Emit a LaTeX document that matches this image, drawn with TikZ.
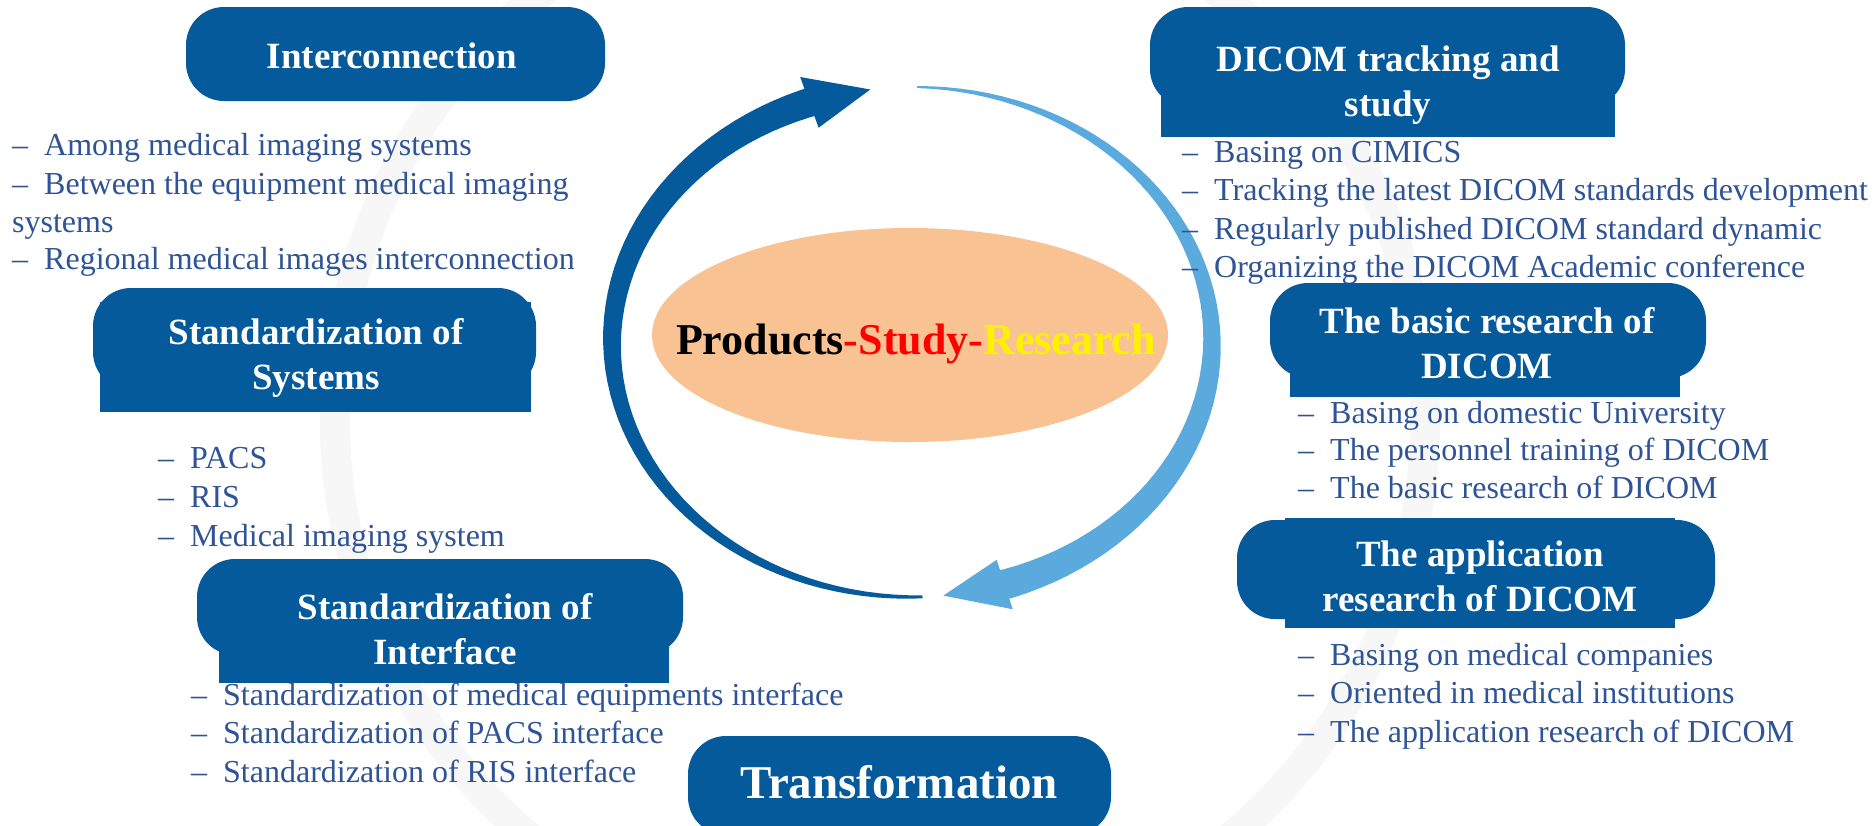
\documentclass[tikz,border=0pt]{standalone}
\usepackage{fontspec}
\setmainfont{Liberation Serif}
\definecolor{boxblue}{HTML}{045A9A}
\definecolor{txtblue}{HTML}{2F5496}
\definecolor{skyblue}{HTML}{5BAADD}
\definecolor{peach}{HTML}{F8C293}
\newcommand{\bodyfont}{\fontsize{32}{38}\selectfont}
\newcommand{\headfont}{\bfseries\fontsize{37}{45}\selectfont}
\newcommand{\dash}{–\hspace{16pt}}

\begin{document}
\begin{tikzpicture}[x=1pt,y=-1pt,
	head/.style={text=white,font=\headfont,align=center,inner sep=0pt},
	blob/.style={fill=boxblue,rounded corners=38pt},
	item/.style={anchor=base west,inner sep=0pt}]
	\fill[white] (0,0) rectangle (1874,825);
	\useasboundingbox (0,0) rectangle (1874,825);
	% faint ring in the background
	\draw[black!3,line width=30pt] (880,420) circle [radius=545pt];
	% the two arcs round the centre
	\fill[boxblue] plot[domain=272:108,samples=60,variable=\t] ({912+(301.5+13*(272-(\t))/162)*cos(\t)},{342-(256.5+13*(272-(\t))/162)*sin(\t)})
	-- plot[domain=108:272,samples=60,variable=\t] ({912+(298.5-13*(272-(\t))/162)*cos(\t)},{342-(253.5-13*(272-(\t))/162)*sin(\t)}) -- cycle;
	\fill[boxblue] ({912+327*cos(110)},{342-282*sin(110)}) -- ({912+300*cos(98)},{342-255*sin(98)}) -- ({912+273*cos(110)},{342-228*sin(110)}) -- cycle;
	\fill[skyblue] plot[domain=89:-74,samples=60,variable=\t] ({912+(301+14*(89-(\t))/161)*cos(\t)},{342-(256+14*(89-(\t))/161)*sin(\t)})
	-- plot[domain=-74:89,samples=60,variable=\t] ({912+(299-14*(89-(\t))/161)*cos(\t)},{342-(254-14*(89-(\t))/161)*sin(\t)}) -- cycle;
	\fill[skyblue] ({912+326*cos(-72)},{342-281*sin(-72)}) -- ({912+300*cos(-84)},{342-255*sin(-84)}) -- ({912+274*cos(-72)},{342-229*sin(-72)}) -- cycle;
	% centre
	\fill[peach] (910,335) ellipse [x radius=258pt, y radius=107pt];
	\node[font=\bfseries\fontsize{44}{50}\selectfont,inner sep=0pt] (core) at (916,344) {Products\textcolor{red}{-Study-}\textcolor{yellow}{Research}};
	% left side
	\fill[blob] (186,7) rectangle (605,101);
	\node[head] (inter) at (392,56) {Interconnection};
	\fill[txtblue,font=\bodyfont] (12,155) node[item] (inter1) {\dash Among medical imaging systems}
	(12,194) node[item] (inter2) {\dash Between the equipment medical imaging}
	(12,232) node[item] (inter3) {systems}
	(12,269) node[item] (inter4) {\dash Regional medical images interconnection};
	\fill[blob] (93,288) rectangle (536,390);
	\fill[boxblue] (100,302) rectangle (531,412);
	\node[head] (stdsys) at (316,358) {Standardization of\\Systems};
	\fill[txtblue,font=\bodyfont] (158,468) node[item] (sys1) {\dash PACS}
	(158,507) node[item] (sys2) {\dash RIS}
	(158,546) node[item] (sys3) {\dash Medical imaging system};
	\fill[blob] (197,559) rectangle (683,655);
	\fill[boxblue] (219,600) rectangle (669,683);
	\node[head] (stdif) at (445,629) {Standardization of\\Interface};
	\fill[txtblue,font=\bodyfont] (191,705) node[item] (if1) {\dash Standardization of medical equipments interface}
	(191,743) node[item] (if2) {\dash Standardization of PACS interface}
	(191,782) node[item] (if3) {\dash Standardization of RIS interface};
	\fill[blob] (688,736) rectangle (1111,835);
	\node[head,font=\bfseries\fontsize{47}{50}\selectfont] (trans) at (899,782) {Transformation};
	% right side
	\fill[blob] (1150,7) rectangle (1625,107);
	\fill[boxblue] (1161,60) rectangle (1615,137);
	\node[head] (dicom) at (1388,85) {DICOM tracking and\\study};
	\fill[txtblue,font=\bodyfont] (1182,162) node[item] (dic1) {\dash Basing on CIMICS}
	(1182,200) node[item] (dic2) {\dash Tracking the latest DICOM standards development}
	(1182,239) node[item] (dic3) {\dash Regularly published DICOM standard dynamic}
	(1182,277) node[item] (dic4) {\dash Organizing the DICOM Academic conference};
	\fill[blob] (1270,283) rectangle (1706,378);
	\fill[boxblue] (1290,330) rectangle (1680,397);
	\node[head] (basic) at (1487,343) {The basic research of\\DICOM};
	\fill[txtblue,font=\bodyfont] (1298,423) node[item] (bas1) {\dash Basing on domestic University}
	(1298,460) node[item] (bas2) {\dash The personnel training of DICOM}
	(1298,498) node[item] (bas3) {\dash The basic research of DICOM};
	\fill[blob] (1237,520) rectangle (1715,619);
	\fill[boxblue] (1285,518) rectangle (1675,628);
	\node[head] (app) at (1480,576) {The application\\research of DICOM};
	\fill[txtblue,font=\bodyfont] (1298,665) node[item] (app1) {\dash Basing on medical companies}
	(1298,703) node[item] (app2) {\dash Oriented in medical institutions}
	(1298,742) node[item] (app3) {\dash The application research of DICOM};
\end{tikzpicture}
\end{document}
